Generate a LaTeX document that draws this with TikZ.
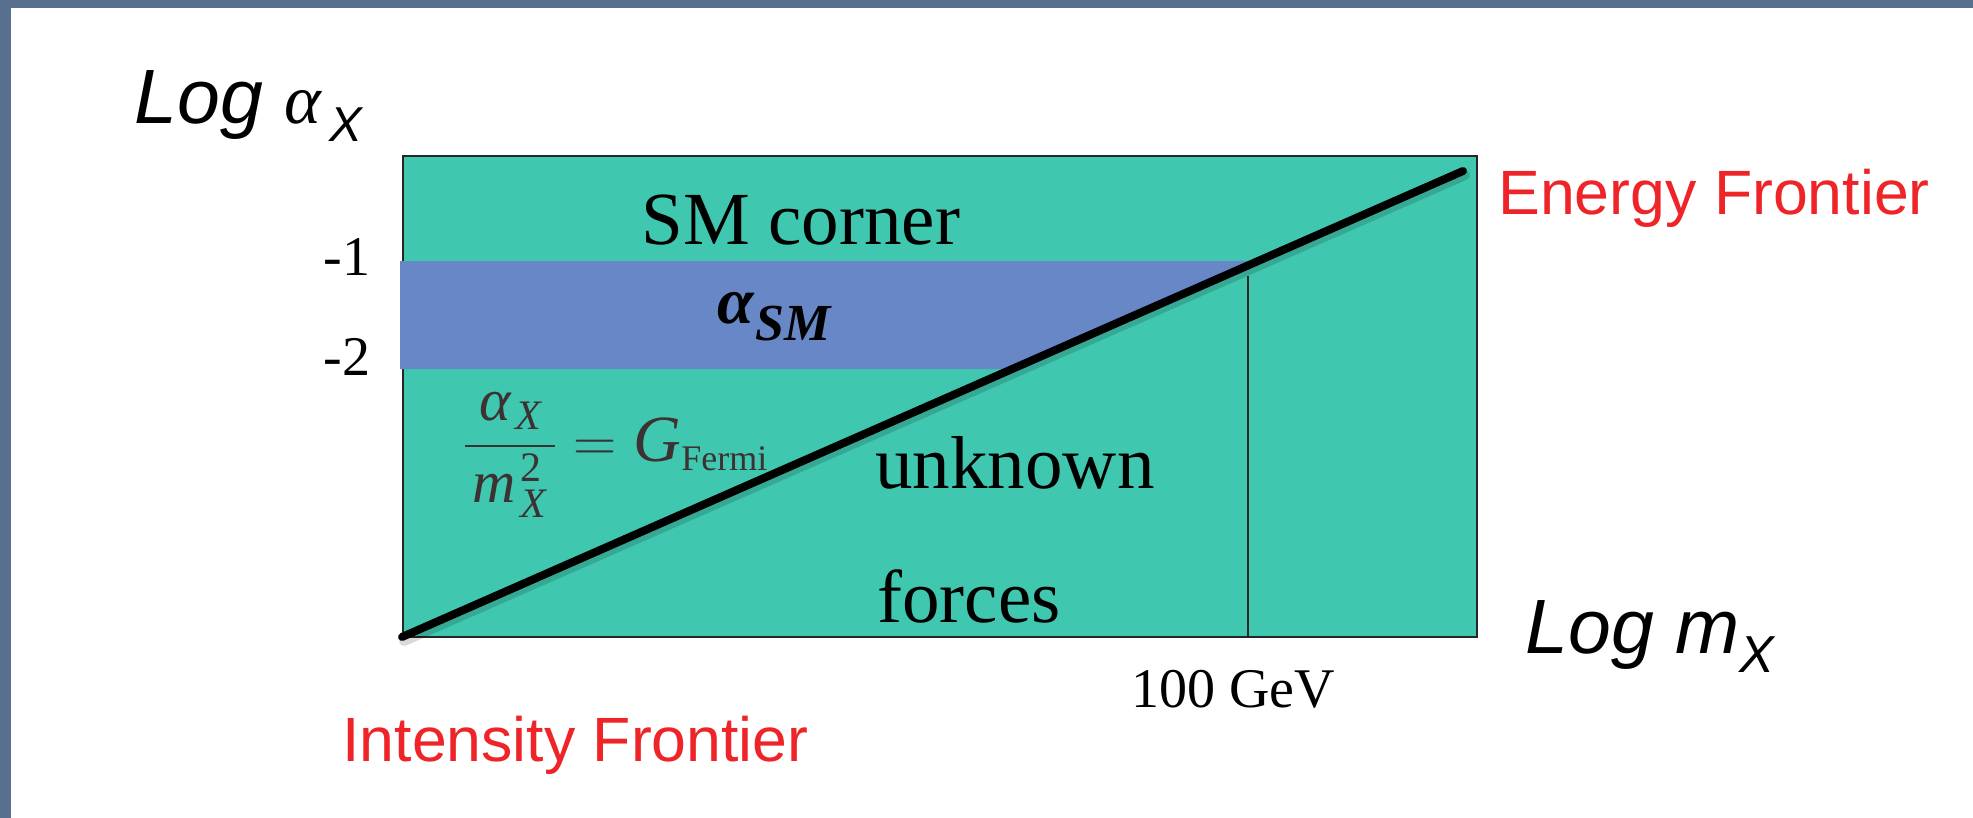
\RequirePackage{fix-cm}
\documentclass[tikz,border=0pt]{standalone}
\usepackage{amsmath}
\usepackage{fontspec}
\setmainfont{Liberation Serif}
\newfontfamily\arialfont{Liberation Sans}

\definecolor{plotteal}{RGB}{64,199,176}
\definecolor{smband}{RGB}{103,135,198}
\definecolor{slideframe}{RGB}{88,112,142}
\definecolor{frontred}{RGB}{238,36,40}
\definecolor{formulagray}{RGB}{60,50,50}

\newcommand{\subX}[2]{\raisebox{-#1}{\fontsize{#2}{#2}\selectfont\arialfont\itshape X}}

\begin{document}
\begin{tikzpicture}[
    x=0.5pt, y=-0.5pt,
    bigtext/.style={inner sep=0pt, anchor=base west, font=\fontsize{37.5}{40}\selectfont},
    ticktext/.style={inner sep=0pt, font=\fontsize{28}{30}\selectfont},
    frontier/.style={inner sep=0pt, anchor=base west, text=frontred, font=\arialfont\fontsize{31.3}{34}\selectfont},
    axislabel/.style={inner sep=0pt, anchor=base west, font=\arialfont\itshape\fontsize{38.5}{40}\selectfont},
    formula/.style={inner sep=0pt, anchor=west, text=formulagray, font=\fontsize{30}{32}\selectfont},
    thinline/.style={draw=black!85, line width=1pt},
]
    % page and slide frame
    \useasboundingbox (0,0) rectangle (1973,818);
    \fill[white] (0,0) rectangle (1973,818);
    \fill[slideframe] (0,0) rectangle (1973,8);
    \fill[slideframe] (0,0) rectangle (11,818);

    % plot area
    \draw[thinline, fill=plotteal] (403,156) rectangle (1477,637);

    \coordinate (lo) at (402,637);
    \coordinate (hi) at (1463,171);
    \coordinate (btl) at (400,261);
    \coordinate (btr) at (1500,261);
    \coordinate (bbl) at (400,369);
    \coordinate (bbr) at (1500,369);

    % SM coupling band
    \fill[smband] (btl) -- (intersection of lo--hi and btl--btr)
        -- (intersection of lo--hi and bbl--bbr) -- (bbl) -- cycle;

    % 100 GeV marker
    \coordinate (gevtop) at (1248,276);
    \coordinate (gevbot) at (1248,637);
    \draw[thinline] (gevtop) -- (gevbot);

    % Fermi line
    \draw[black, opacity=0.15, line width=5pt, line cap=round] ([shift={(2,4)}]lo) -- ([shift={(2,4)}]hi);
    \draw[black, line width=4pt, line cap=round] (lo) -- (hi);

    \node[bigtext] (smcorner) at (641,244) {SM corner};
    \node[inner sep=0pt, anchor=base west, font=\bfseries\itshape\fontsize{33}{35}\selectfont] (asm) at (717,323)
        {α\kern1pt\raisebox{-8.5pt}{\fontsize{26}{26}\selectfont SM}};
    \node[bigtext] (unknown) at (875,488) {unknown};
    \node[bigtext] (forces) at (877,622) {forces};

    \node[formula] (fermi) at (462,455)
        {$\dfrac{\hspace{5pt}\text{\itshape α}_{\kern2pt\text{\itshape X}}\hspace{4pt}}
                {\hspace{4pt}\text{\itshape m}^{\kern2pt\text{2}}_{\kern2pt\text{\itshape X}}\hspace{4pt}}
          = \text{\fontsize{33}{33}\selectfont\itshape G}_{\text{\fontsize{18}{18}\selectfont Fermi}}$};

    \node[ticktext, anchor=base east] (tickone) at (371,275) {-1};
    \node[ticktext, anchor=base east] (ticktwo) at (371,375) {-2};
    \node[ticktext, anchor=base west] (gev) at (1131,707) {100 GeV};

    \node[axislabel] (ylab) at (134,124) {Log {\rmfamily\fontsize{35}{36}\selectfont α}\kern4pt\subX{9pt}{24.5}};
    \node[axislabel] (xlab) at (1525,653) {Log m\subX{9.5pt}{26}};

    \node[frontier] (efront) at (1498,214) {Energy Frontier};
    \node[frontier] (ifront) at (342,761) {Intensity Frontier};
\end{tikzpicture}
\end{document}
